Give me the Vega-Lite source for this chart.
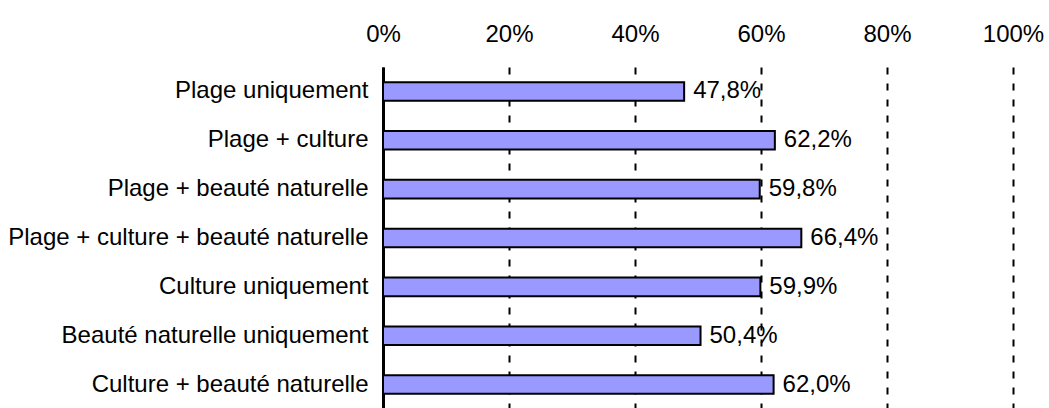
{
  "$schema": "https://vega.github.io/schema/vega-lite/v6.json",
  "autosize": {"type": "none"},
  "padding": {"left": 383, "top": 67, "right": 36, "bottom": 0},
  "width": 630,
  "height": 342,
  "background": "white",
  "config": {
    "view": {"stroke": null},
    "font": "Liberation Sans",
    "locale": {"number": {"decimal": ",", "thousands": " ", "grouping": [3], "currency": ["", " €"]}}
  },
  "data": {
    "values": [
      {"category": "Plage uniquement", "share": 0.478},
      {"category": "Plage + culture", "share": 0.622},
      {"category": "Plage + beauté naturelle", "share": 0.598},
      {"category": "Plage + culture + beauté naturelle", "share": 0.664},
      {"category": "Culture uniquement", "share": 0.599},
      {"category": "Beauté naturelle uniquement", "share": 0.504},
      {"category": "Culture + beauté naturelle", "share": 0.620}
    ]
  },
  "encoding": {
    "y": {
      "field": "category",
      "type": "nominal",
      "sort": null,
      "scale": {"paddingInner": 0.62, "paddingOuter": 0.31},
      "axis": {
        "title": null,
        "orient": "left",
        "ticks": false,
        "labelFontSize": 24,
        "labelColor": "black",
        "labelPadding": 15,
        "labelLimit": 500,
        "domain": true,
        "domainColor": "black",
        "domainWidth": 3
      }
    },
    "x": {
      "field": "share",
      "type": "quantitative",
      "scale": {"domain": [0, 1], "nice": false},
      "axis": {
        "title": null,
        "orient": "top",
        "values": [0, 0.2, 0.4, 0.6, 0.8, 1],
        "format": ".0%",
        "ticks": false,
        "domain": false,
        "labelFontSize": 24,
        "labelColor": "black",
        "labelPadding": 26,
        "labelBaseline": "alphabetic",
        "labelFlush": false,
        "grid": true,
        "gridColor": "black",
        "gridWidth": 2,
        "gridDash": [7, 9],
        "gridOpacity": 1
      }
    }
  },
  "layer": [
    {
      "mark": {"type": "bar", "fill": "#9999FF", "stroke": "black", "strokeWidth": 2}
    },
    {
      "mark": {"type": "text", "align": "left", "baseline": "middle", "dx": 9, "fontSize": 24, "color": "black"},
      "encoding": {
        "text": {"field": "share", "type": "quantitative", "format": ".1%"}
      }
    }
  ]
}
